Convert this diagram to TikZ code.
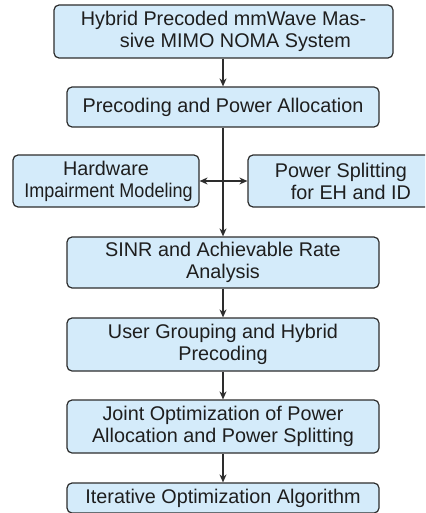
\documentclass[tikz,border=0pt]{standalone}
\usepackage{fontspec}
\setmainfont{Liberation Sans}
\usetikzlibrary{arrows.meta}
\definecolor{boxblue}{RGB}{212,235,250}
\definecolor{edgegray}{RGB}{45,45,45}
\definecolor{txt}{RGB}{30,30,30}
\tikzset{
  box/.style={draw=edgegray, fill=boxblue, rounded corners=5pt, line width=1.2pt,
    align=center, inner sep=0pt, text=txt, font=\fontsize{19.8}{22}\selectfont},
  conn/.style={draw=edgegray, line width=1.2pt, -{Stealth[length=8pt,width=7pt]}},
  dconn/.style={draw=edgegray, line width=1.2pt, {Stealth[length=8pt,width=7pt]}-{Stealth[length=8pt,width=7pt]}}
}
\begin{document}
\begin{tikzpicture}[x=1pt,y=-1pt]
\useasboundingbox (0,0) rectangle (425,513);
\clip (0,0) rectangle (425,513);
\node[box, minimum width=339pt, minimum height=53pt] (sys) at (223.5,31.5) {Hybrid Precoded mmWave Mas-\\\hspace*{1.2em}sive MIMO NOMA System};
\node[box, minimum width=312pt, minimum height=40pt] (ppa) at (223,107) {Precoding and Power Allocation};
\node[box, minimum width=186pt, minimum height=52pt] (hw) at (106,181) {Hardware\\\hspace*{5pt}\scalebox{0.91}[1]{Impairment Modeling}};
\node[box, minimum width=186pt, minimum height=52pt] (ps) at (341,181) {Power Splitting\\\hspace*{1em}for EH and ID};
\node[box, minimum width=312pt, minimum height=51pt] (sinr) at (223,262.5) {SINR and Achievable Rate\\Analysis};
\node[box, minimum width=312pt, minimum height=53pt] (ug) at (223,344.5) {User Grouping and Hybrid\\Precoding};
\node[box, minimum width=312pt, minimum height=53pt] (jo) at (223,426.5) {Joint Optimization of Power\\Allocation and Power Splitting};
\node[box, minimum width=312pt, minimum height=30pt] (it) at (223,498) {Iterative Optimization Algorithm};
\coordinate (j) at (ppa.south |- hw.east);
\draw[conn] (sys.south -| ppa.south) -- (ppa.north);
\draw[conn] (ppa.south) -- (sinr.north);
\draw[dconn] (hw.east) -- (ps.west);
\draw[conn] (sinr.south) -- (ug.north);
\draw[conn] (ug.south) -- (jo.north);
\draw[conn] (jo.south) -- (it.north);
\end{tikzpicture}
\end{document}
